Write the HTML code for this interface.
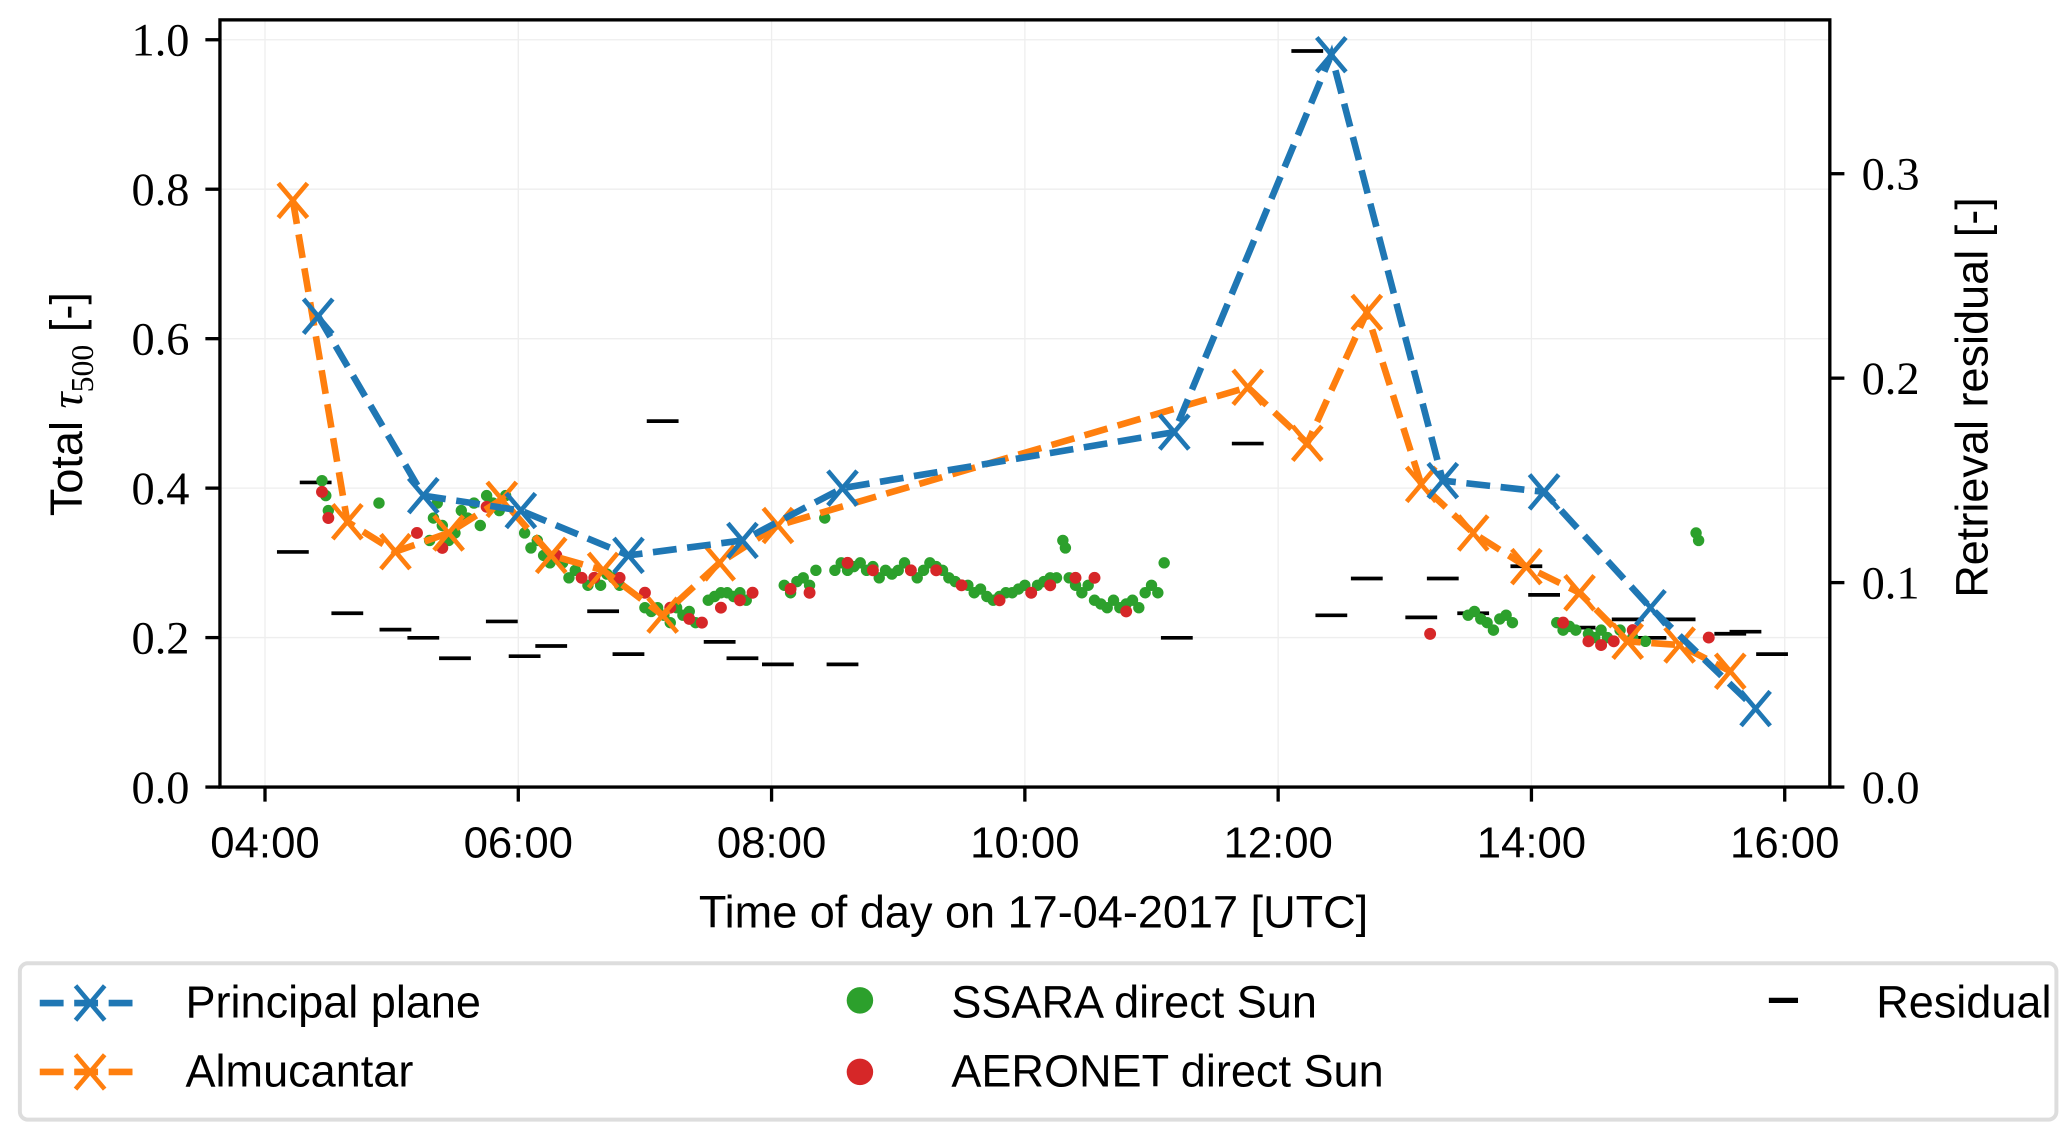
<!DOCTYPE html>
<html><head><meta charset="utf-8"><style>
html,body{margin:0;padding:0;background:#fff;}
svg{display:block;}
.tk{font-family:"Liberation Serif",serif;font-size:35px;fill:#000;}
.sx{font-family:"Liberation Sans",sans-serif;font-size:33px;fill:#000;}
.lab{font-family:"Liberation Sans",sans-serif;font-size:34px;fill:#000;}
</style></head><body>
<svg id="chart" width="2067" height="1135" viewBox="0 0 1560 856.6" xmlns="http://www.w3.org/2000/svg">
<g id="grid"></g>
<g id="marks"></g>
<rect x="166" y="15" width="1215" height="579" fill="none" stroke="#000" stroke-width="2.5"/>
<g id="axes"></g>
<text class="lab" x="780" y="700" text-anchor="middle">Time of day on 17-04-2017 [UTC]</text>
<text class="lab" transform="translate(62,305) rotate(-90)" text-anchor="middle">Total <tspan font-family="Liberation Serif,serif" font-style="italic">τ</tspan><tspan font-family="Liberation Serif,serif" font-size="24" dy="8">500</tspan><tspan dy="-8"> [-]</tspan></text>
<text class="lab" transform="translate(1500,300) rotate(-90)" text-anchor="middle">Retrieval residual [-]</text>
<g>
<rect x="15" y="727" width="1537" height="118" rx="6" fill="#fff" stroke="#ddd" stroke-width="3"/>
<g>
<line x1="30" y1="757" x2="106" y2="757" stroke="#1f77b4" stroke-width="5" stroke-dasharray="18,8"/>
<path d="M57,744 L79,770 M79,744 L57,770" stroke="#1f77b4" stroke-width="3.5"/>
<text class="lab" x="140" y="768">Principal plane</text></g>
<g>
<line x1="30" y1="809" x2="106" y2="809" stroke="#ff7f0e" stroke-width="5" stroke-dasharray="18,8"/>
<path d="M57,796 L79,822 M79,796 L57,822" stroke="#ff7f0e" stroke-width="3.5"/>
<text class="lab" x="140" y="820">Almucantar</text></g>
<g>
<circle cx="649" cy="755" r="10" fill="#2ca02c"/>
<text class="lab" x="718" y="768">SSARA direct Sun</text></g>
<g>
<circle cx="649" cy="809" r="10" fill="#d62728"/>
<text class="lab" x="718" y="820">AERONET direct Sun</text></g>
<g>
<line x1="1335" y1="755" x2="1357" y2="755" stroke="#000" stroke-width="4"/>
<text class="lab" x="1416" y="768">Residual</text></g>
</g>
</svg>
<script>
const xTicks=[4,6,8,10,12,14,16];
const xTickLabels=["04:00","06:00","08:00","10:00","12:00","14:00","16:00"];
const yTicks=[0,0.2,0.4,0.6,0.8,1.0];
const yTickLabels=["0.0","0.2","0.4","0.6","0.8","1.0"];
const y2Ticks=[0,0.1,0.2,0.3];
const y2TickLabels=["0.0","0.1","0.2","0.3"];
const ppTime=[4.42,5.25,6.02,6.87,7.77,8.56,11.18,12.42,13.3,14.1,14.94,15.77];
const ppTau=[0.63,0.39,0.37,0.31,0.33,0.40,0.475,0.98,0.41,0.395,0.24,0.105];
const alTime=[4.22,4.65,5.03,5.45,5.87,6.26,6.67,7.14,7.59,8.05,11.76,12.23,12.7,13.13,13.54,13.96,14.38,14.76,15.17,15.57];
const alTau=[0.785,0.355,0.315,0.34,0.385,0.31,0.29,0.23,0.30,0.35,0.535,0.46,0.635,0.405,0.34,0.295,0.26,0.195,0.19,0.155];
const resTime=[4.22,4.4,4.65,5.03,5.25,5.5,5.87,6.05,6.26,6.67,6.87,7.14,7.59,7.77,8.05,8.56,11.2,11.76,12.23,12.42,12.7,13.13,13.3,13.54,13.96,14.1,14.38,14.76,14.94,15.17,15.57,15.69,15.9];
const resVal=[0.115,0.149,0.085,0.077,0.073,0.063,0.081,0.064,0.069,0.086,0.065,0.179,0.071,0.063,0.060,0.060,0.073,0.168,0.360,0.084,0.102,0.083,0.102,0.085,0.108,0.094,0.078,0.082,0.073,0.082,0.075,0.076,0.065];
const ssTime=[4.45,4.48,4.5,4.9,5.3,5.33,5.36,5.4,5.45,5.5,5.55,5.6,5.65,5.7,5.75,5.8,5.85,5.9,6.05,6.1,6.15,6.2,6.25,6.3,6.35,6.4,6.45,6.5,6.55,6.6,6.65,6.7,6.75,6.8,7.0,7.05,7.1,7.15,7.2,7.25,7.3,7.35,7.4,7.5,7.55,7.6,7.65,7.7,7.75,7.8,8.1,8.15,8.2,8.25,8.3,8.35,8.42,8.5,8.55,8.6,8.65,8.7,8.75,8.8,8.85,8.9,8.95,9.0,9.05,9.1,9.15,9.2,9.25,9.3,9.35,9.4,9.45,9.5,9.55,9.6,9.65,9.7,9.75,9.8,9.85,9.9,9.95,10.0,10.05,10.1,10.15,10.2,10.25,10.3,10.32,10.35,10.4,10.45,10.5,10.55,10.6,10.65,10.7,10.75,10.8,10.85,10.9,10.95,11.0,11.05,11.1,13.5,13.55,13.6,13.65,13.7,13.75,13.8,13.85,14.2,14.25,14.3,14.35,14.45,14.5,14.55,14.6,14.7,14.8,14.9,15.3,15.32];
const ssTau=[0.41,0.39,0.37,0.38,0.33,0.36,0.38,0.35,0.33,0.34,0.37,0.36,0.38,0.35,0.39,0.38,0.37,0.39,0.34,0.32,0.33,0.31,0.30,0.31,0.30,0.28,0.29,0.28,0.27,0.28,0.27,0.285,0.28,0.27,0.24,0.235,0.24,0.23,0.22,0.24,0.23,0.235,0.22,0.25,0.255,0.26,0.26,0.255,0.26,0.25,0.27,0.26,0.275,0.28,0.27,0.29,0.36,0.29,0.30,0.29,0.295,0.30,0.29,0.295,0.28,0.29,0.285,0.29,0.30,0.29,0.28,0.29,0.30,0.295,0.29,0.28,0.275,0.27,0.27,0.26,0.265,0.255,0.25,0.255,0.26,0.26,0.265,0.27,0.26,0.27,0.275,0.28,0.28,0.33,0.32,0.28,0.27,0.26,0.27,0.25,0.245,0.24,0.25,0.24,0.245,0.25,0.24,0.26,0.27,0.26,0.30,0.23,0.235,0.225,0.22,0.21,0.225,0.23,0.22,0.22,0.21,0.215,0.21,0.205,0.20,0.21,0.20,0.21,0.20,0.195,0.34,0.33];
const aeTime=[4.45,4.5,5.2,5.4,5.75,6.3,6.5,6.6,6.8,7.0,7.2,7.35,7.45,7.6,7.75,7.85,8.15,8.3,8.6,8.8,9.1,9.3,9.5,9.8,10.05,10.2,10.4,10.55,10.8,13.2,14.25,14.45,14.55,14.65,14.8,15.4];
const aeTau=[0.395,0.36,0.34,0.32,0.375,0.31,0.28,0.28,0.28,0.26,0.24,0.225,0.22,0.24,0.25,0.26,0.265,0.26,0.30,0.29,0.29,0.29,0.27,0.25,0.26,0.27,0.28,0.28,0.235,0.205,0.22,0.195,0.19,0.195,0.21,0.20];

const NS="http://www.w3.org/2000/svg";
const X=t=>200+(t-4)*95.58;
const Y=v=>594-v*564;
const Y2=v=>594-v*1543;
function mk(tag,attrs,parent){const e=document.createElementNS(NS,tag);for(const k in attrs)e.setAttribute(k,attrs[k]);parent.appendChild(e);return e;}
const grid=document.getElementById('grid'),marks=document.getElementById('marks'),axes=document.getElementById('axes');
xTicks.forEach((t,i)=>{
 const g=mk('line',{x1:X(t),x2:X(t),y1:15,y2:594,stroke:'#eee','stroke-width':1},grid);
 
 
 const tk=mk('line',{x1:X(t),x2:X(t),y1:594,y2:605,stroke:'#000','stroke-width':2.5},axes);
 
 
 const tl=mk('text',{x:X(t),y:647,'text-anchor':'middle','class':'sx'},axes);
 tl.textContent=xTickLabels[i];
 
 
});
yTicks.forEach((v,i)=>{
 const g=mk('line',{x1:166,x2:1381,y1:Y(v),y2:Y(v),stroke:'#eee','stroke-width':1},grid);
 
 
 const tk=mk('line',{x1:155,x2:166,y1:Y(v),y2:Y(v),stroke:'#000','stroke-width':2.5},axes);
 
 
 const tl=mk('text',{x:143,y:Y(v)+12,'text-anchor':'end','class':'tk'},axes);
 tl.textContent=yTickLabels[i];
 
 
});
y2Ticks.forEach((v,i)=>{
 const tk=mk('line',{x1:1381,x2:1392,y1:Y2(v),y2:Y2(v),stroke:'#000','stroke-width':2.5},axes);
 
 
 const tl=mk('text',{x:1405,y:Y2(v)+12,'text-anchor':'start','class':'tk'},axes);
 tl.textContent=y2TickLabels[i];
 
 
});
resTime.forEach((t,i)=>{
 const d=mk('line',{x1:X(t)-12,x2:X(t)+12,y1:Y2(resVal[i]),y2:Y2(resVal[i]),stroke:'#000','stroke-width':2.8},marks);
 
 
});
ssTime.forEach((t,i)=>{
 const c=mk('circle',{cx:X(t),cy:Y(ssTau[i]),r:4.3,fill:'#2ca02c'},marks);
 
 
});
aeTime.forEach((t,i)=>{
 const c=mk('circle',{cx:X(t),cy:Y(aeTau[i]),r:4.5,fill:'#d62728'},marks);
 
 
});
function series(ts,vs,color,name){
 const pts=ts.map((t,i)=>X(t)+','+Y(vs[i])).join(' ');
 const pl=mk('polyline',{points:pts,fill:'none',stroke:color,'stroke-width':5,'stroke-dasharray':'18,8'},marks);
 
 
 ts.forEach((t,i)=>{
  const x=X(t),y=Y(vs[i]);
  const m=mk('path',{d:`M${x-11},${y-13}L${x+11},${y+13}M${x+11},${y-13}L${x-11},${y+13}`,stroke:color,'stroke-width':3.5,fill:'none'},marks);
  
  
 });
}
series(alTime,alTau,'#ff7f0e','almucantar');
series(ppTime,ppTau,'#1f77b4','principal-plane');
</script>
</body></html>
